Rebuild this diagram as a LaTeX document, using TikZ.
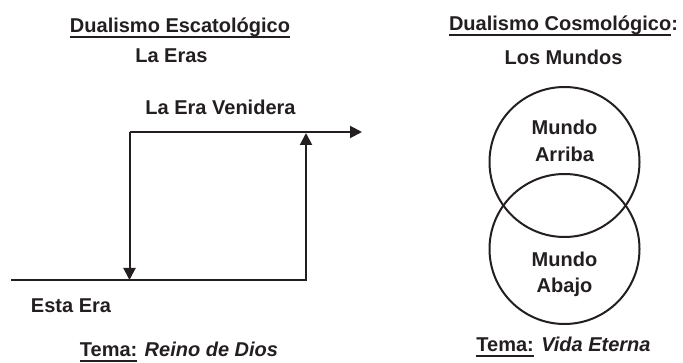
\documentclass[tikz,border=0pt]{standalone}
\usepackage{fontspec}
\setmainfont{Liberation Sans}
\usetikzlibrary{arrows.meta}
\definecolor{ink}{HTML}{231F20}
\newlength\myulw
\newcommand\myul[1]{\settowidth{\myulw}{#1}\rlap{\rule[-4.6pt]{\myulw}{1.3pt}}#1}
\begin{document}
\begin{tikzpicture}[x=1pt,y=-1pt,
  lbl/.style={anchor=base, inner sep=0pt, text=ink, font=\fontsize{20}{22}\selectfont\bfseries},
  conn/.style={draw=ink, line width=2pt},
  tip/.style={-{Triangle[length=12pt,width=12pt]}},
  world/.style={circle, draw=ink, line width=2pt, minimum size=150pt, inner sep=0pt}]
\useasboundingbox (0,0) rectangle (683,363);
% left side
\node[lbl] (t1) at (180,33) {\myul{Dualismo Escatológico}};
\node[lbl] (t1b) at (171.5,63) {La Eras};
\node[lbl] (ven) at (220.5,115) {La Era Venidera};
\node[lbl] (esta) at (71,312.5) {Esta Era};
\node[lbl] (tema1) at (179,357) {\myul{Tema:} \textit{Reino de Dios}};
\coordinate (start) at (11,280);
\coordinate (corner) at (306,280);
\coordinate (up) at (306,133);
\coordinate (down) at (129.5,280);
\coordinate (topleft) at (129.5,132);
\coordinate (right) at (362,132);
\draw[conn, tip] (start) -- (corner) -- (up);
\draw[conn, tip] (topleft) -- (down);
\draw[conn, tip] (topleft) -- (right);
% right side
\node[lbl] (t2) at (563.5,31) {\myul{Dualismo Cosmológico}:};
\node[lbl] (t2b) at (563.5,65) {Los Mundos};
\node[world] (upper) at (564.5,162) {};
\node[world] (lower) at (564.5,249) {};
\node[lbl] (m1) at (564.5,134.5) {Mundo};
\node[lbl] (m2) at (564.5,161.5) {Arriba};
\node[lbl] (m3) at (564.5,266.5) {Mundo};
\node[lbl] (m4) at (564.5,293) {Abajo};
\node[lbl] (tema2) at (563.5,352) {\myul{Tema:} \textit{Vida Eterna}};
\end{tikzpicture}
\end{document}
